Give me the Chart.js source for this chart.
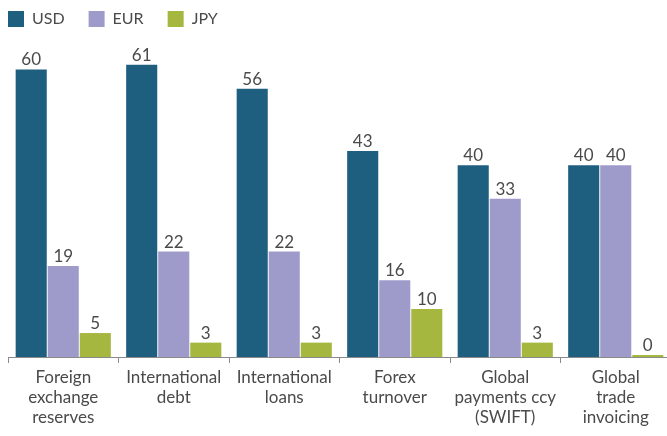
<!DOCTYPE html>
<html>
<head>
<meta charset="utf-8">
<script src="https://cdn.jsdelivr.net/npm/chart.js@4/dist/chart.umd.min.js"></script>
<style>
  html, body { margin: 0; padding: 0; background: #ffffff; overflow: hidden; }
  #wrap { width: 671px; height: 436px; }
</style>
</head>
<body>
<div id="wrap"><canvas id="c" width="671" height="436"></canvas></div>
<script>
const categories = [
  ["Foreign", "exchange", "reserves"],
  ["International", "debt"],
  ["International", "loans"],
  ["Forex", "turnover"],
  ["Global", "payments ccy", "(SWIFT)"],
  ["Global", "trade", "invoicing"]
];
const seriesNames = ["USD", "EUR", "JPY"];
const usdValues = [60, 61, 56, 43, 40, 40];
const eurValues = [19, 22, 22, 16, 33, 40];
const jpyValues = [5, 3, 3, 10, 3, 0];
const seriesColors = ["#1e5f80", "#9e9bcb", "#a6b740"];

const textColor = "#4a4a4a";
const fontFamily = "Lato, 'Open Sans', sans-serif";

const valueLabels = {
  id: 'valueLabels',
  afterDatasetsDraw(chart) {
    const ctx = chart.ctx;
    ctx.save();
    ctx.font = "17px " + fontFamily;
    ctx.fillStyle = textColor;
    ctx.textAlign = 'center';
    ctx.textBaseline = 'alphabetic';
    chart.data.datasets.forEach((ds, di) => {
      const meta = chart.getDatasetMeta(di);
      meta.data.forEach((el, i) => {
        ctx.fillText(String(ds.data[i]), el.x, el.y - 4);
      });
    });
    ctx.restore();
  }
};

// Legend floats over the plot (takes no layout space) at the top-left.
const legendShift = {
  id: 'legendShift',
  beforeLayout(chart) {
    const l = chart.legend;
    if (!l || l._patched) return;
    const origFit = l.fit;
    l.fit = function () {
      origFit.call(this);
      this.height = 0;
    };
    l._patched = true;
  },
  afterLayout(chart) {
    const l = chart.legend;
    if (!l) return;
    const p = l.options.labels.padding;
    l.left = 8 - p;
    l.top = 11 - p;
    l.right = l.left + 660;
    l.bottom = l.top + 70;
    l.width = 660;
    l.height = 70;
  }
};

new Chart(document.getElementById('c'), {
  type: 'bar',
  data: {
    labels: categories,
    datasets: [
      { label: seriesNames[0], data: usdValues, backgroundColor: seriesColors[0] },
      { label: seriesNames[1], data: eurValues, backgroundColor: seriesColors[1] },
      { label: seriesNames[2], data: jpyValues, backgroundColor: seriesColors[2] }
    ]
  },
  options: {
    responsive: false,
    animation: false,
    layout: { padding: { left: 8, right: 0, top: 0, bottom: 0 } },
    datasets: {
      bar: {
        categoryPercentage: 0.87,
        barPercentage: 0.97,
        minBarLength: 2,
        borderWidth: 0
      }
    },
    plugins: {
      tooltip: { enabled: false },
      legend: {
        position: 'top',
        align: 'start',
        labels: {
          boxWidth: 16,
          boxHeight: 16,
          padding: 24,
          color: textColor,
          font: { family: fontFamily, size: 16 }
        }
      }
    },
    scales: {
      x: {
        offset: true,
        grid: {
          offset: true,
          drawOnChartArea: false,
          tickLength: 6,
          color: '#8a8a8a'
        },
        border: { color: '#8a8a8a', width: 1 },
        ticks: {
          padding: 4,
          color: textColor,
          maxRotation: 0,
          autoSkip: false,
          font: { family: fontFamily, size: 17, lineHeight: 1.2 }
        },
        afterFit(scale) { scale.height = 79; }
      },
      y: {
        display: false,
        min: 0,
        max: 74.5
      }
    }
  },
  plugins: [valueLabels, legendShift]
});
</script>
</body>
</html>
